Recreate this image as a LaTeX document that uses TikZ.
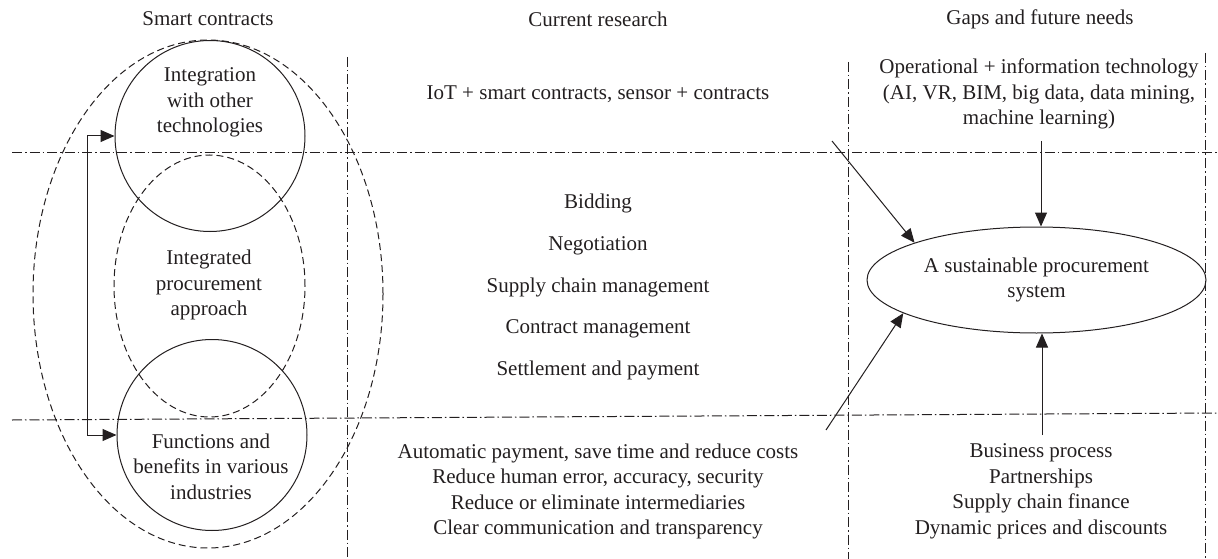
\documentclass[tikz,border=0pt]{standalone}
\usepackage{fontspec}
\setmainfont{Liberation Serif}
\usetikzlibrary{shapes.geometric,arrows.meta}
\definecolor{ink}{HTML}{231F20}
\tikzset{
  txt/.style={inner sep=0pt, align=center, text=ink, font=\fontsize{21}{25.6}\selectfont},
  dashdot/.style={draw=ink, line width=1pt, dash pattern=on 10pt off 3pt on 1.5pt off 3pt},
  dashell/.style={ellipse, draw=ink, line width=1pt, dash pattern=on 7pt off 4pt, inner sep=0pt},
  solell/.style={ellipse, draw=ink, line width=1pt, inner sep=0pt},
  arr/.style={draw=ink, line width=1pt, -{Triangle[length=14pt,width=12pt]}},
  arr2/.style={draw=ink, line width=1pt, {Triangle[length=14pt,width=12pt]}-{Triangle[length=14pt,width=12pt]}}
}
\begin{document}
\begin{tikzpicture}[x=1pt,y=-1pt]
\useasboundingbox (0,0) rectangle (1218,559);
% grid lines
\coordinate (h1a) at (12,153); \coordinate (h1b) at (1218,153);
\coordinate (h2a) at (12,420); \coordinate (h2b) at (1218,413);
\coordinate (v1a) at (347,57); \coordinate (v1b) at (347,559);
\coordinate (v2a) at (848,62); \coordinate (v2b) at (848,559);
\coordinate (v3a) at (1205,53); \coordinate (v3b) at (1205,559);
\draw[dashdot] (h1a) -- (h1b);
\draw[dashdot] (h2a) -- (h2b);
\draw[dashdot] (v1a) -- (v1b);
\draw[dashdot] (v2a) -- (v2b);
\draw[dashdot] (v3a) -- (v3b);
% headers
\node[txt] (hsc) at (208,19) {Smart contracts};
\node[txt] (hcr) at (598,19) {Current research};
\node[txt] (hgf) at (1040,19) {Gaps and future needs};
% left column
\node[dashell, minimum width=350pt, minimum height=508pt] (outer) at (208,294) {};
\node[dashell, minimum width=191pt, minimum height=262pt] (midc) at (209.5,286) {};
\node[solell, minimum width=190pt, minimum height=191pt] (topc) at (210,136) {};
\node[solell, minimum width=190pt, minimum height=191pt] (botc) at (212,435) {};
\node[txt] (ttop) at (210,102.5) {Integration\\with other\\technologies};
\node[txt] (tmid) at (209,285) {Integrated\\procurement\\approach};
\node[txt] (tbot) at (211,466.5) {Functions and\\benefits in various\\industries};
\draw[arr2] (topc.west) -- ++(-27,0) |- (botc.west);
% middle column
\node[txt] (iot) at (598,94) {IoT + smart contracts, sensor + contracts};
\node[txt, font=\fontsize{21}{41.7}\selectfont] (proc) at (598,287) {Bidding\\Negotiation\\Supply chain management\\Contract management\\Settlement and payment};
\node[txt] (ben) at (598,491.5) {Automatic payment, save time and reduce costs\\Reduce human error, accuracy, security\\Reduce or eliminate intermediaries\\Clear communication and transparency};
% right column
\node[txt] (ops) at (1039,94) {Operational + information technology\\(AI, VR, BIM, big data, data mining,\\machine learning)};
\node[solell, minimum width=339pt, minimum height=106pt, txt, inner sep=0pt] (sps) at (1036.5,280) {A sustainable procurement\\system};
\node[txt] (biz) at (1041,491.5) {Business process\\Partnerships\\Supply chain finance\\Dynamic prices and discounts};
% arrows
\coordinate (opsA) at (1041,141);
\coordinate (bizA) at (1042,435);
\coordinate (iotA) at (832,141);
\coordinate (benA) at (826,430);
\draw[arr] (opsA) -- (opsA |- sps.north);
\draw[arr] (bizA) -- (bizA |- sps.south);
\draw[arr] (iotA) -- (sps.163.4);
\draw[arr] (benA) -- (sps.194);
\end{tikzpicture}
\end{document}
